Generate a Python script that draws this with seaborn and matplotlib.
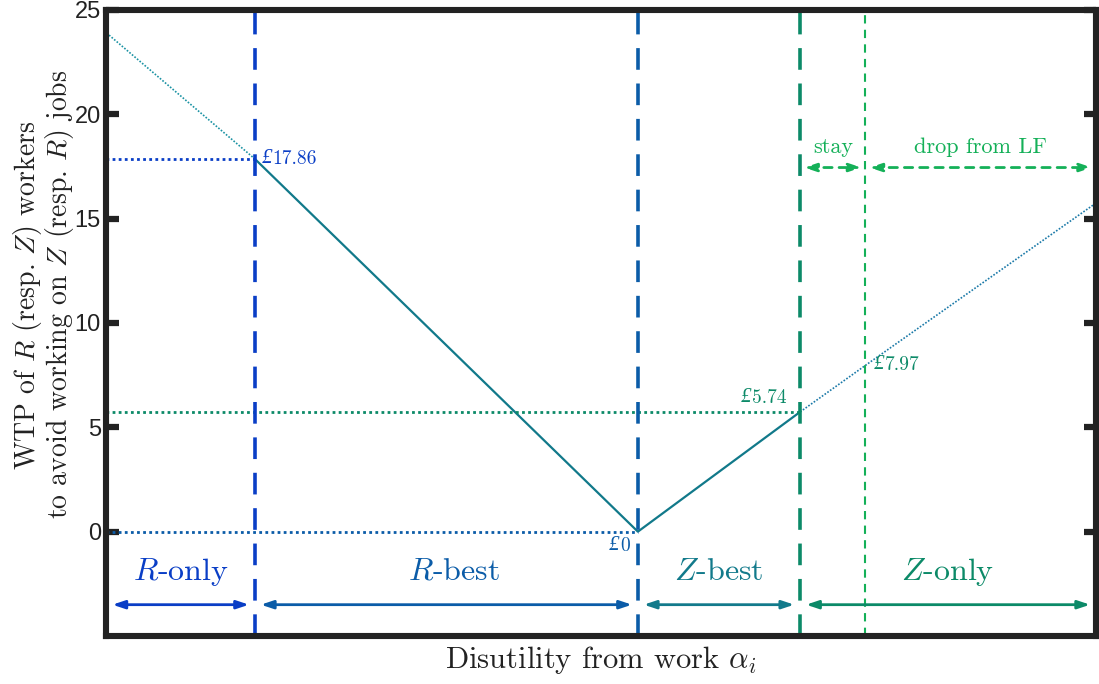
import numpy as np
import pandas as pd
import matplotlib
matplotlib.use("Agg")
import matplotlib.pyplot as plt
import seaborn as sns

# Regime thresholds along the disutility axis (alpha), and WTP at each threshold
thresholds = [0.150, 0.537, 0.701, 0.767]
wtp_at_thresholds = [17.86, 0.00, 5.74, 7.97]
wtp_left_edge = 23.9
wtp_right_edge = 15.75
alpha_min, alpha_max = 0.0, 1.0

region_names = [r"$R$-only", r"$R$-best", r"$Z$-best", r"$Z$-only"]
lf_names = ["stay", "drop from LF"]
price_values = ["17.86", "0", "5.74", "7.97"]
yticks = [0, 5, 10, 15, 20, 25]

c_ronly = "#0a3ec6"
c_rbest = "#0b5ca8"
c_zbest = "#127a8b"
c_zonly = "#0c8a68"
c_lf = "#14b058"
c_curve = "#11798a"
c_ext_left = "#1a92a3"
c_ext_right = "#1a79a8"
ink = "#222222"

sns.set_theme(style="white")
plt.rcParams["mathtext.fontset"] = "cm"
plt.rcParams["font.family"] = ["cmr10", "DejaVu Serif"]
plt.rcParams["axes.formatter.use_mathtext"] = True

fig = plt.figure(figsize=(10.99, 6.84), dpi=100)
ax = fig.add_axes([0.0969, 0.0702, 0.9004, 0.9152])

# WTP curve: solid within the working regimes, dotted outside
solid = pd.DataFrame({"alpha": thresholds[:3], "wtp": wtp_at_thresholds[:3]})
left_ext = pd.DataFrame({"alpha": [alpha_min, thresholds[0]],
                         "wtp": [wtp_left_edge, wtp_at_thresholds[0]]})
right_ext = pd.DataFrame({"alpha": [thresholds[2], thresholds[3], alpha_max],
                          "wtp": [wtp_at_thresholds[2], wtp_at_thresholds[3], wtp_right_edge]})
sns.lineplot(data=solid, x="alpha", y="wtp", ax=ax, color=c_curve, lw=1.6, sort=False)
sns.lineplot(data=left_ext, x="alpha", y="wtp", ax=ax, color=c_ext_left, lw=1.2,
             linestyle=(0, (1, 1)), sort=False)
sns.lineplot(data=right_ext, x="alpha", y="wtp", ax=ax, color=c_ext_right, lw=1.2,
             linestyle=(0, (1, 1)), sort=False)

# Horizontal reference levels
ax.plot([alpha_min, thresholds[0]], [wtp_at_thresholds[0]] * 2, color=c_ronly,
        lw=2, linestyle=(0, (1, 1.2)))
ax.plot([alpha_min, thresholds[2]], [wtp_at_thresholds[2]] * 2, color=c_zonly,
        lw=2, linestyle=(0, (1, 1.2)))
ax.plot([alpha_min, thresholds[1]], [wtp_at_thresholds[1]] * 2, color=c_rbest,
        lw=2, linestyle=(0, (1, 1.2)))

# Regime boundaries
for xv, col in zip(thresholds[:3], [c_ronly, c_rbest, c_zonly]):
    ax.axvline(xv, color=col, lw=2.6, linestyle=(0, (6, 3.8)))
ax.axvline(thresholds[3], color=c_lf, lw=1.5, linestyle=(0, (4, 3)))


def price_label(x, y, value, color, ha, va):
    """Amount in pounds; the sign is set in an italic serif next to the digits."""
    t = ax.text(x, y, value, color=color, fontsize=14, ha=ha, va=va)
    ax.annotate("£", xy=(0, 0), xycoords=t, xytext=(-0.5, 0), textcoords="offset points",
                ha="right", va="bottom", color=color, fontsize=15,
                fontfamily="Liberation Serif", fontstyle="italic")
    return t


price_label(thresholds[0] + 0.018, wtp_at_thresholds[0], price_values[0], c_ronly, "left", "center")
price_label(thresholds[1] - 0.008, wtp_at_thresholds[1] - 0.25, price_values[1], c_rbest, "right", "top")
price_label(thresholds[2] - 0.014, wtp_at_thresholds[2] + 0.25, price_values[2], c_zonly, "right", "bottom")
price_label(thresholds[3] + 0.020, wtp_at_thresholds[3], price_values[3], c_zonly, "left", "center")

# Regime arrows and names along the bottom
bounds = [alpha_min] + thresholds[:3] + [alpha_max]
region_cols = [c_ronly, c_rbest, c_zbest, c_zonly]
gap = 0.006
for i, (name, col) in enumerate(zip(region_names, region_cols)):
    x0, x1 = bounds[i] + gap, bounds[i + 1] - gap
    ax.annotate("", xy=(x1, -3.5), xytext=(x0, -3.5),
                arrowprops=dict(arrowstyle="<|-|>,head_length=0.6,head_width=0.2",
                                color=col, lw=2, shrinkA=0, shrinkB=0))
    ax.text((bounds[i] + bounds[i + 1]) / 2 + (0.008 if i == 1 else 0), -2.3, name,
            color=col, fontsize=23, ha="center", va="baseline")

# Labour-force participation arrows at the top right
lf_bounds = [thresholds[2], thresholds[3], alpha_max]
for i, name in enumerate(lf_names):
    x0, x1 = lf_bounds[i] + 0.004, lf_bounds[i + 1] - 0.004
    ax.annotate("", xy=(x1, 17.45), xytext=(x0, 17.45),
                arrowprops=dict(arrowstyle="<|-|>,head_length=0.6,head_width=0.2",
                                color=c_lf, lw=2, linestyle=(0, (3, 2.5)),
                                shrinkA=0, shrinkB=0))
    ax.text((lf_bounds[i] + lf_bounds[i + 1]) / 2, 18.15, name, color=c_lf,
            fontsize=16, ha="center", va="baseline")

ax.set_xlim(alpha_min, alpha_max)
ax.set_ylim(-5, 25)
ax.set_xticks([])
ax.set_yticks(yticks)
ax.set_yticklabels([str(t) for t in yticks], fontfamily="Liberation Sans", fontsize=17,
                   color=ink)
ax.tick_params(axis="y", direction="in", length=9, width=4.5, color=ink,
               left=True, right=True, pad=4)

for sp in ax.spines.values():
    sp.set_visible(True)
    sp.set_linewidth(4.4)
    sp.set_color(ink)

ax.set_xlabel(r"Disutility from work $\alpha_i$", fontsize=22, color=ink, labelpad=6)
ax.set_ylabel("WTP of $R$ (resp. $Z$) workers\nto avoid working on $Z$ (resp. $R$) jobs",
              fontsize=20, color=ink, linespacing=0.95)
ax.yaxis.set_label_coords(-0.031, 0.545)

fig.savefig("out.png", dpi=100)
